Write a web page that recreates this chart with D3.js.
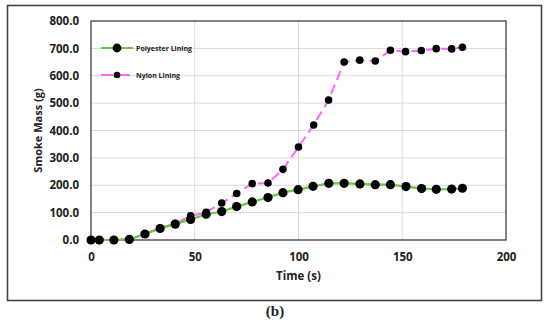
<!DOCTYPE html>
<html>
<head>
<meta charset="utf-8">
<script src="https://cdn.jsdelivr.net/npm/d3@7"></script>
<style>
  body { margin: 0; background: #fff; }
  svg text { font-family: "Open Sans", sans-serif; font-weight: 700; fill: #222; }
</style>
</head>
<body>
<div id="chart"></div>
<script>
// data
var polyTime = [0, 4, 11, 18.5, 26, 33.3, 40.6, 48, 55.5, 63, 70.2, 77.7, 85.3, 92.5, 99.8, 107, 114.6, 122, 129.6, 137, 144.3, 151.8, 159.3, 166.4, 173.8, 179];
var polyMass = [0, 0, 0, 2, 22, 42, 58, 75, 94, 104, 122, 139, 155, 173, 184, 196, 207, 207, 205, 202, 202, 195, 188, 185, 186, 189];
var nylonTime = [0, 4, 11, 18.5, 26, 33.3, 40.6, 48, 55.5, 63, 70.2, 77.7, 85.3, 92.5, 100, 107.3, 114.5, 122, 129.5, 137, 144.3, 151.6, 159.2, 166.4, 173.8, 179];
var nylonMass = [0, 0, 0, 4, 22, 44, 60, 88, 101, 135, 170, 206, 208, 258, 340, 420, 511, 650, 657, 654, 693, 688, 692, 699, 698, 704];
var xTicks = [0, 50, 100, 150, 200];
var yTicks = [0, 100, 200, 300, 400, 500, 600, 700, 800];

var W = 550, H = 320;
var m = { left: 91, top: 21, right: 44, bottom: 80 };
var iw = W - m.left - m.right, ih = H - m.top - m.bottom;

var svg = d3.select('#chart').append('svg')
  .attr('width', W)
  .attr('height', H);

// outer frame
svg.append('rect')
  .attr('x', 7.5).attr('y', 5.5)
  .attr('width', 534).attr('height', 295)
  .attr('fill', 'none')
  .attr('stroke', '#444')
  .attr('stroke-width', 1.6);

var g = svg.append('g').attr('transform', `translate(${m.left},${m.top})`);

var x = d3.scaleLinear().domain([0, 200]).range([0, iw]);
var y = d3.scaleLinear().domain([0, 800]).range([ih, 0]);

// gridlines
g.append('g').selectAll('line.gy')
  .data(yTicks.slice(1, -1))
  .enter().append('line')
  .attr('x1', 0).attr('x2', iw)
  .attr('y1', d => y(d)).attr('y2', d => y(d))
  .attr('stroke', '#d9d9d9').attr('stroke-width', 1);

g.append('g').selectAll('line.gx')
  .data(xTicks.slice(1, -1))
  .enter().append('line')
  .attr('y1', 0).attr('y2', ih)
  .attr('x1', d => x(d)).attr('x2', d => x(d))
  .attr('stroke', '#d9d9d9').attr('stroke-width', 1);

// plot border
g.append('rect')
  .attr('width', iw).attr('height', ih)
  .attr('fill', 'none')
  .attr('stroke', '#404040')
  .attr('stroke-width', 1.3);

// axes
var xAxis = g.append('g')
  .attr('transform', `translate(0,${ih})`)
  .call(d3.axisBottom(x).tickValues(xTicks).tickSize(0).tickPadding(13));
var yAxis = g.append('g')
  .call(d3.axisLeft(y).tickValues(yTicks).tickSize(0).tickPadding(12).tickFormat(d3.format('.1f')));
[xAxis, yAxis].forEach(function(a) {
  a.select('.domain').remove();
  a.attr('font-family', null).attr('font-size', null);
  a.selectAll('text').style('font-size', '11.5px').attr('fill', '#222');
});

svg.append('text')
  .attr('transform', `translate(42,${m.top + ih / 2}) rotate(-90)`)
  .attr('text-anchor', 'middle')
  .style('font-size', '11px')
  .text('Smoke Mass (g)');

svg.append('text')
  .attr('x', m.left + iw / 2).attr('y', 280)
  .attr('text-anchor', 'middle')
  .style('font-size', '11.5px')
  .text('Time (s)');

svg.append('text')
  .attr('x', 275).attr('y', 316)
  .attr('text-anchor', 'middle')
  .style('font-family', '"Liberation Serif", serif')
  .style('font-weight', 'bold')
  .style('font-size', '15px')
  .text('(b)');

// series
var polyData = polyTime.map((t, i) => ({ t: t, v: polyMass[i] }));
var nylonData = nylonTime.map((t, i) => ({ t: t, v: nylonMass[i] }));

var line = d3.line().x(d => x(d.t)).y(d => y(d.v));

g.append('path')
  .datum(nylonData)
  .attr('d', line)
  .attr('fill', 'none')
  .attr('stroke', '#ff66ff')
  .attr('stroke-width', 2)
  .attr('stroke-dasharray', '10,5');

g.append('path')
  .datum(polyData)
  .attr('d', line)
  .attr('fill', 'none')
  .attr('stroke', '#66cc33')
  .attr('stroke-width', 2.2);

g.selectAll('circle.nylon')
  .data(nylonData)
  .enter().append('circle')
  .attr('class', 'nylon')
  .attr('cx', d => x(d.t)).attr('cy', d => y(d.v))
  .attr('r', 3.8)
  .attr('fill', '#000');

g.selectAll('circle.poly')
  .data(polyData)
  .enter().append('circle')
  .attr('class', 'poly')
  .attr('cx', d => x(d.t)).attr('cy', d => y(d.v))
  .attr('r', 4.6)
  .attr('fill', '#000');

// legend
var legend = [
  { name: 'Polyester Lining', color: '#66cc33', dash: null, r: 4.4, y: 48 },
  { name: 'Nylon Lining', color: '#ff66ff', dash: '12,5', r: 3.3, y: 75 }
];
var lg = svg.append('g').selectAll('g.legend')
  .data(legend)
  .enter().append('g')
  .attr('class', 'legend');
lg.append('line')
  .attr('x1', 101).attr('x2', 133)
  .attr('y1', d => d.y).attr('y2', d => d.y)
  .attr('stroke', d => d.color)
  .attr('stroke-width', 2)
  .attr('stroke-dasharray', d => d.dash);
lg.append('circle')
  .attr('cx', 117).attr('cy', d => d.y)
  .attr('r', d => d.r)
  .attr('fill', '#000');
lg.append('text')
  .attr('x', 136).attr('y', d => d.y + 2.5)
  .style('font-size', '7px')
  .attr('fill', '#333')
  .text(d => d.name);
</script>
</body>
</html>
